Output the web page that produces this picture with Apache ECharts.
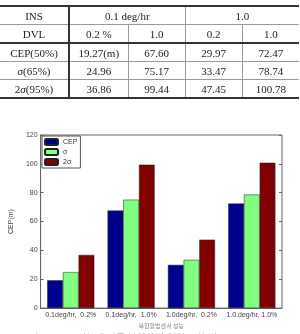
<!DOCTYPE html>
<html>
<head>
<meta charset="utf-8">
<script src="https://cdn.jsdelivr.net/npm/echarts@6/dist/echarts.min.js"></script>
<style>
    body{ margin:0; background:#fff; overflow:hidden; }
    #chart{ position:absolute; left:0; top:0; width:300px; height:334px; }
    .tbl{
        position:absolute; left:0; top:5px; width:299px;
        border-collapse:collapse; table-layout:fixed;
        font-family:"Liberation Serif", serif; font-size:11px; color:#222;
        z-index:2;
    }
    .tbl td{
        height:17px; padding:0; text-align:center;
        border:1px solid #999;
    }
    .tbl tr:first-child td{ border-top:2px solid #333; }
    .tbl tr.sep td{ border-bottom:2px solid #333; }
    .tbl tr:last-child td{ border-bottom:2px solid #333; }
    .tbl td:first-child{ border-left:none; border-right:2px solid #333; }
    .tbl td:last-child{ border-right:none; }
</style>
</head>
<body>
<table class="tbl" id="tbl">
    <colgroup><col style="width:69px"><col style="width:59px"><col style="width:57px"><col style="width:57px"><col style="width:57px"></colgroup>
    <tbody id="tbody"></tbody>
</table>
<div id="chart"></div>
<script>
// 표 데이터
var insHeader = ['INS', '0.1 deg/hr', '1.0'];
var dvlHeader = ['DVL', '0.2 %', '1.0', '0.2', '1.0'];
var rowNames = ['CEP(50%)', '<i>σ</i>(65%)', '2<i>σ</i>(95%)'];
var rowCells = [
    ['19.27(m)', '67.60', '29.97', '72.47'],
    ['24.96', '75.17', '33.47', '78.74'],
    ['36.86', '99.44', '47.45', '100.78']
];

// 차트 데이터
var categories = ['0.1deg/hr,  0.2%', '0.1deg/hr,  1.0%', '1.0deg/hr,  0.2%', '1.0.deg/hr, 1.0%'];
var cepData = [19.27, 67.60, 29.97, 72.47];
var sigmaData = [24.96, 75.17, 33.47, 78.74];
var sigma2Data = [36.86, 99.44, 47.45, 100.78];
var yTicks = [0, 20, 40, 60, 80, 100, 120];

// 표 만들기
var html = '<tr><td>' + insHeader[0] + '</td><td colspan="2">' + insHeader[1] + '</td><td colspan="2">' + insHeader[2] + '</td></tr>';
html += '<tr class="sep">' + dvlHeader.map(function(t){ return '<td>' + t + '</td>'; }).join('') + '</tr>';
rowNames.forEach(function(n, i){
    html += '<tr><td>' + n + '</td>' + rowCells[i].map(function(t){ return '<td>' + t + '</td>'; }).join('') + '</tr>';
});
document.getElementById('tbody').innerHTML = html;

var myChart = echarts.init(document.getElementById('chart'));
var axisFont = { color: '#444', fontSize: 7, fontFamily: 'Liberation Sans' };
var option = {
    animation: false,
    grid: { left: 39, right: 18, top: 135, bottom: 24, show: true, borderColor: '#666', borderWidth: 1 },
    legend: {
        orient: 'vertical', left: 42, top: 136,
        itemWidth: 13, itemHeight: 6, itemGap: 2, padding: [2, 3, 2, 2],
        borderColor: '#555', borderWidth: 1, backgroundColor: '#fff',
        textStyle: { fontSize: 7, color: '#333', fontFamily: 'Liberation Sans' },
        data: ['CEP', 'σ', '2σ']
    },
    xAxis: [{
        type: 'category', data: categories,
        axisLine: { lineStyle: { color: '#666' } },
        axisTick: { inside: true, length: 3, alignWithLabel: true, lineStyle: { color: '#666' } },
        axisLabel: Object.assign({ interval: 0, margin: 3 }, axisFont),
        name: '복합항법센서 성능', nameLocation: 'middle', nameGap: 13,
        nameTextStyle: { fontSize: 6, color: '#888', fontFamily: 'Noto Sans CJK KR' }
    }, {
        type: 'category', data: categories, position: 'top',
        axisLine: { show: false },
        axisTick: { inside: true, length: 3, alignWithLabel: true, lineStyle: { color: '#666' } },
        axisLabel: { show: false }
    }],
    yAxis: [{
        type: 'value', min: yTicks[0], max: yTicks[yTicks.length - 1], interval: 20,
        axisLine: { show: true, lineStyle: { color: '#666' } },
        axisTick: { show: true, inside: true, length: 3, lineStyle: { color: '#666' } },
        axisLabel: Object.assign({ margin: 3 }, axisFont),
        splitLine: { show: false },
        name: 'CEP(m)', nameLocation: 'middle', nameGap: 17,
        nameTextStyle: { fontSize: 7, color: '#444', fontFamily: 'Liberation Sans' }
    }, {
        type: 'value', min: yTicks[0], max: yTicks[yTicks.length - 1], interval: 20, position: 'right',
        axisLine: { show: false },
        axisTick: { show: true, inside: true, length: 3, lineStyle: { color: '#666' } },
        axisLabel: { show: false },
        splitLine: { show: false }
    }],
    series: [{
        name: 'CEP', type: 'bar', data: cepData, barGap: 0, barCategoryGap: '22%',
        itemStyle: { color: '#00008f', borderColor: '#222', borderWidth: 0.5 }
    }, {
        name: 'σ', type: 'bar', data: sigmaData, barGap: 0, barCategoryGap: '22%',
        itemStyle: { color: '#80ff80', borderColor: '#222', borderWidth: 0.5 }
    }, {
        name: '2σ', type: 'bar', data: sigma2Data, barGap: 0, barCategoryGap: '22%',
        itemStyle: { color: '#800000', borderColor: '#222', borderWidth: 0.5 }
    }],
    graphic: [{
        type: 'text', left: 20, top: 333,
        style: { text: '그림 10. DVL 성능에 따른 복합항법 위치 오차 비교', fontSize: 10, fill: '#aaa', fontFamily: 'Noto Sans CJK KR' }
    }]
};
myChart.setOption(option);
</script>
</body>
</html>
